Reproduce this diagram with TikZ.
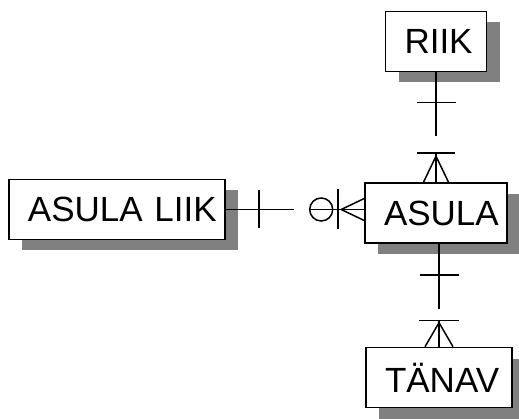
\documentclass[tikz,border=0pt]{standalone}
\usepackage{fontspec}
\setmainfont{Liberation Sans}
\usetikzlibrary{calc,shadows}

\tikzset{
  entity/.style={draw, line width=1.6pt, fill=white, inner sep=0pt,
    text width=#1, align=left, minimum height=60pt,
    font=\fontsize{35}{35}\selectfont,
    execute at begin node={\hspace*{19pt}},
    drop shadow={shadow xshift=13pt, shadow yshift=-11pt, fill=black!50, opacity=1}},
  rel/.style={draw, line width=1.5pt, -}
}

\begin{document}
\begin{tikzpicture}[x=1pt,y=-1pt]
\useasboundingbox (0,0) rectangle (519,419);

\node[entity=101pt] (riik) at (436,41.5) {RIIK};
\node[entity=216pt] (liik) at (117,209.5) {ASULA LIIK};
\node[entity=142pt] (asula) at (436,213) {ASULA};
\node[entity=146pt] (tanav) at (439,377.5) {TÄNAV};

% RIIK -- ASULA
\path[rel] (riik.south) -- ++(0,64);
\path[rel] ($(riik.south)+(-19.5,30)$) -- ++(39,0);
\path[rel] ($(asula.north)+(-19,-29)$) -- ++(38,0);
\path[rel] ($(asula.north)+(0,-29)$) -- (asula.north);
\path[rel] ($(asula.north)+(-12.5,0)$) -- ($(asula.north)+(0,-26)$) -- ($(asula.north)+(12.5,0)$);

% ASULA LIIK -- ASULA
\coordinate (a1) at (asula.west |- liik.east);
\path[rel] (liik.east) -- ++(68,0);
\path[rel] ($(liik.east)+(33,-19)$) -- ++(0,38);
\path[rel] ($(a1)+(-55,0)$) -- (a1);
\path[rel] ($(a1)+(-43,0)$) circle (11.5);
\path[rel] ($(a1)+(-26,-20)$) -- ++(0,40);
\path[rel] ($(a1)+(0,-11)$) -- ($(a1)+(-23,0)$) -- ($(a1)+(0,11)$);

% ASULA -- TANAV
\coordinate (b1) at (asula.south -| tanav.north);
\path[rel] (b1) -- ++(0,65);
\path[rel] ($(b1)+(-19.5,31)$) -- ++(39,0);
\path[rel] ($(tanav.north)+(-20,-26)$) -- ++(40,0);
\path[rel] ($(tanav.north)+(0,-26)$) -- (tanav.north);
\path[rel] ($(tanav.north)+(-14,0)$) -- ($(tanav.north)+(0,-24)$) -- ($(tanav.north)+(14,0)$);
\end{tikzpicture}
\end{document}
